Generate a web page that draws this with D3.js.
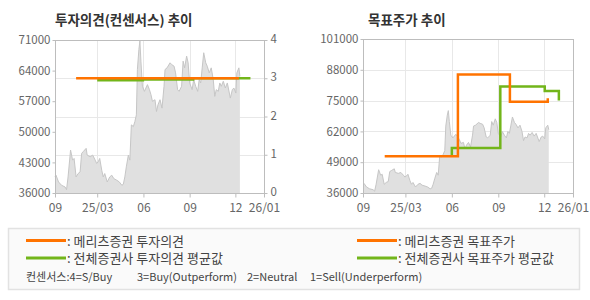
<!DOCTYPE html>
<html>
<head>
<meta charset="utf-8">
<script src="https://cdn.jsdelivr.net/npm/d3@7"></script>
<style>
  body { margin: 0; background: #fff; }
  text { font-family: "Noto Sans CJK KR", "Noto Sans", sans-serif; }
</style>
</head>
<body>
<div id="chart"></div>
<script>
(function(){
  // --- data (days are counted from START) ---
  var START = "2024-12-07";
  var tickDates  = ["2024-12-07","2025-03-01","2025-06-01","2025-09-01","2025-12-01","2026-01-27"];
  var tickLabels = ["09","25/03","06","09","12","26/01"];

  var priceDays = [0,2,7,13,20,23,26,31,35,38,42,46,50,53,56,62,64,70,75,80,83,86,89,93,96,99,104,109,113,117,
    123,128,133,136,139,142,146,149,152,156,159,162,164,167,169,171,174,178,181,184,188,191,194,199,202,205,209,213,217,219,
    223,229,232,237,240,244,247,252,255,258,262,265,268,273,276,280,284,287,290,293,296,300,303,307,311,315,318,321,325,328,
    331,335,339,343,347,349,353,356,360,362,366,368];
  var prices = [39680,40070,38530,37770,37380,36770,39680,45820,43520,43900,39680,40450,40840,45060,45440,46210,44670,44290,44670,43520,
    42750,43140,43910,41220,39680,40450,38530,39680,40070,39300,38920,38530,37770,38000,39680,41990,44670,43520,51580,51200,
    52350,53880,64240,68850,70770,66160,60410,59260,60020,60790,59640,58490,56950,57340,54650,56190,57340,55420,60410,64240,
    64630,65780,65400,65010,63480,59640,59260,60410,66160,64630,67310,65780,61170,59640,61940,60410,59260,61940,61170,64630,
    68080,65780,65010,63480,64630,61940,58100,59640,59260,61170,60410,61560,60020,61170,58870,57720,59640,60020,58870,63480,
    64630,62710];

  var opinionDays = [42, 366];
  var opinions    = [3, 3];
  var avgOpinionDays = [84, 175, 275, 389];
  var avgOpinions    = [2.95, 2.97, 3, 3];

  var targetDays = [43, 188, 291, 365, 366];
  var targets    = [51500, 86000, 74500, 74500, 76000];
  var avgTargetDays = [175, 176, 272, 360, 388];
  var avgTargets    = [52000, 55000, 81000, 79000, 75000];

  var leftPriceTicks  = [36000, 43000, 50000, 57000, 64000, 71000];
  var opinionTicks    = [0, 1, 2, 3, 4];
  var targetTicks     = [36000, 49000, 62000, 75000, 88000, 101000];

  var legendLeft  = [": 메리츠증권 투자의견", ": 전체증권사 투자의견 평균값"];
  var legendRight = [": 메리츠증권 목표주가", ": 전체증권사 목표주가 평균값"];
  var footerParts = ["컨센서스:4=S/Buy", "3=Buy(Outperform)", "2=Neutral", "1=Sell(Underperform)"];

  // --- styles ---
  var ORANGE = "#ff7300", GREEN = "#72b51a";
  var GRID = "#e8e8e8", FRAME = "#bdbdbd", LABEL = "#666";

  var parse = d3.timeParse("%Y-%m-%d");
  var start = parse(START);
  function dayDate(d){ return d3.timeDay.offset(start, d); }
  function zip(days, vals){ return days.map(function(d, i){ return {date: dayDate(d), v: vals[i]}; }); }

  var priceData = zip(priceDays, prices);

  var svg = d3.select("#chart").append("svg")
    .attr("width", 590).attr("height", 300);

  function panel(opt){
    var g = svg.append("g");
    var x = d3.scaleTime()
      .domain([parse(tickDates[0]), parse(tickDates[tickDates.length-1])])
      .range([opt.x0, opt.x1]);
    var yP = d3.scaleLinear().domain([opt.pTicks[0], opt.pTicks[opt.pTicks.length-1]]).range([opt.y1, opt.y0]);

    // grid
    g.selectAll(".vg").data(tickDates.slice(1, -1)).enter().append("line")
      .attr("x1", function(d){ return Math.round(x(parse(d))) + 0.5; })
      .attr("x2", function(d){ return Math.round(x(parse(d))) + 0.5; })
      .attr("y1", opt.y0).attr("y2", opt.y1)
      .attr("stroke", GRID).attr("stroke-width", 1);
    g.selectAll(".hg").data(opt.gridVals).enter().append("line")
      .attr("x1", opt.x0).attr("x2", opt.x1)
      .attr("y1", function(d){ return Math.round(opt.gridScale(d)) + 0.5; })
      .attr("y2", function(d){ return Math.round(opt.gridScale(d)) + 0.5; })
      .attr("stroke", GRID).attr("stroke-width", 1);

    // price area
    var area = d3.area()
      .x(function(d){ return x(d.date); })
      .y0(opt.y1)
      .y1(function(d){ return yP(d.v); });
    g.append("path").datum(priceData).attr("d", area).attr("fill", "#e0e0e0");
    g.append("path").datum(priceData)
      .attr("d", d3.line().x(function(d){ return x(d.date); }).y(function(d){ return yP(d.v); }))
      .attr("fill", "none").attr("stroke", "#c6c6c6").attr("stroke-width", 1);

    // frame
    g.append("rect")
      .attr("x", opt.x0 + 0.5).attr("y", opt.y0 + 0.5)
      .attr("width", opt.x1 - opt.x0).attr("height", opt.y1 - opt.y0)
      .attr("fill", "none").attr("stroke", FRAME);

    // step lines
    var step = d3.line()
      .x(function(d){ return x(d.date); })
      .y(function(d){ return opt.lineScale(d.v); })
      .curve(d3.curveStepAfter);
    opt.lines.forEach(function(l){
      g.append("path").datum(l.data).attr("d", step)
        .attr("fill", "none").attr("stroke", l.color).attr("stroke-width", 2.5);
    });

    // left axis
    var la = g.append("g").attr("transform", "translate(" + (opt.x0 + 0.5) + ",0)")
      .call(d3.axisLeft(yP).tickValues(opt.pTicks).tickSize(3).tickPadding(2).tickFormat(d3.format("d")));
    la.select(".domain").remove();
    la.selectAll("line").attr("stroke", FRAME);
    la.selectAll("text").attr("fill", LABEL).style("font-size", "11.5px");

    // bottom axis
    var ba = g.append("g").attr("transform", "translate(0," + (opt.y1 + 0.5) + ")")
      .call(d3.axisBottom(x).tickValues(tickDates.map(parse)).tickSize(4).tickPadding(6)
        .tickFormat(function(d, i){ return tickLabels[i]; }));
    ba.select(".domain").remove();
    ba.selectAll("line").attr("stroke", FRAME);
    ba.selectAll("text").attr("fill", LABEL).style("font-size", "12px");

    // right axis
    if (opt.rTicks){
      var ra = g.append("g").attr("transform", "translate(" + (opt.x1 + 0.5) + ",0)")
        .call(d3.axisRight(opt.lineScale).tickValues(opt.rTicks).tickSize(3).tickPadding(3)
          .tickFormat(d3.format("d")));
      ra.select(".domain").remove();
      ra.selectAll("line").attr("stroke", FRAME);
      ra.selectAll("text").attr("fill", LABEL).attr("dy", "0.22em").style("font-size", "11.5px");
    }

    // title
    g.append("text").attr("x", opt.titleX).attr("y", 25)
      .attr("font-weight", "bold").attr("font-size", "13.5px").attr("fill", "#333")
      .text(opt.title);
  }

  // left: investment opinion
  var yOp = d3.scaleLinear().domain([0, 4]).range([193, 40]);
  panel({
    x0: 55, x1: 264, y0: 40, y1: 193,
    pTicks: leftPriceTicks,
    gridVals: opinionTicks, gridScale: yOp,
    lineScale: yOp, rTicks: opinionTicks,
    lines: [
      {data: zip(avgOpinionDays, avgOpinions), color: GREEN},
      {data: zip(opinionDays, opinions), color: ORANGE}
    ],
    title: "투자의견(컨센서스) 추이", titleX: 55
  });

  // right: target price
  var yT = d3.scaleLinear().domain([36000, 101000]).range([193, 39]);
  panel({
    x0: 363, x1: 573, y0: 39, y1: 193,
    pTicks: targetTicks,
    gridVals: targetTicks, gridScale: yT,
    lineScale: yT, rTicks: null,
    lines: [
      {data: zip(avgTargetDays, avgTargets), color: GREEN},
      {data: zip(targetDays, targets), color: ORANGE}
    ],
    title: "목표주가 추이", titleX: 368
  });

  // legend box
  var lg = svg.append("g");
  lg.append("rect").attr("x", 8.5).attr("y", 228.5).attr("width", 571).attr("height", 61)
    .attr("fill", "#fafafa").attr("stroke", "#e2e2e2").attr("stroke-width", 1.5);

  function legendCol(labels, lx){
    labels.forEach(function(t, i){
      var yy = 240.5 + i * 17.5;
      lg.append("line").attr("x1", lx).attr("x2", lx + 40).attr("y1", yy).attr("y2", yy)
        .attr("stroke", i === 0 ? ORANGE : GREEN).attr("stroke-width", 3);
      lg.append("text").attr("x", lx + 41).attr("y", yy + 5)
        .attr("font-size", "13px").attr("fill", "#444").text(t);
    });
  }
  legendCol(legendLeft, 26);
  legendCol(legendRight, 357);

  var footX = [26, 137, 247, 310];
  lg.selectAll(".foot").data(footerParts).enter().append("text")
    .attr("x", function(d, i){ return footX[i]; }).attr("y", 281)
    .attr("font-size", "11px").attr("fill", "#444")
    .text(function(d){ return d; });
})();
</script>
</body>
</html>
